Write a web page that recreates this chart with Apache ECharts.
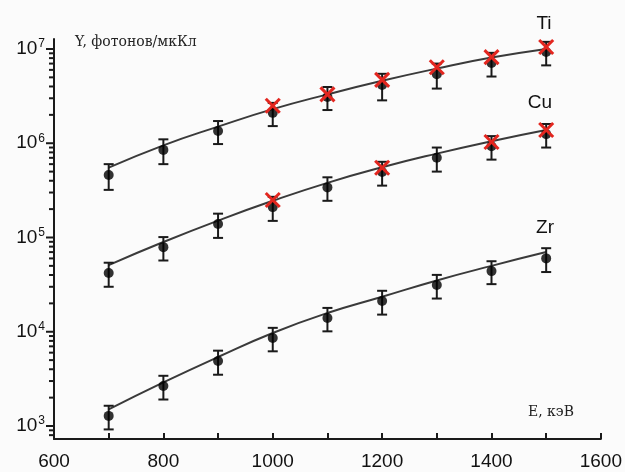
<!DOCTYPE html>
<html>
<head>
<meta charset="utf-8">
<script src="https://cdn.jsdelivr.net/npm/echarts@6/dist/echarts.min.js"></script>
<style>
  html, body { margin: 0; background: #fbfbfb; }
  #chart { width: 625px; height: 472px; }
</style>
</head>
<body>
<div id="chart"></div>
<script>
// Beam energy, keV
const energy = [700, 800, 900, 1000, 1100, 1200, 1300, 1400, 1500];

// Ti: measured yield, error, fit, calculated (red crosses)
const tiExp  = [4.6e5, 8.5e5, 1.35e6, 2.1e6, 3.1e6, 4.15e6, 5.4e6, 7.1e6, 9.3e6];
const tiErr  = [1.4e5, 2.5e5, 3.7e5, 5.8e5, 8.5e5, 1.3e6, 1.6e6, 2.0e6, 2.6e6];
const tiFit  = [5.5e5, 9.5e5, 1.5e6, 2.3e6, 3.3e6, 4.6e6, 6.2e6, 8.1e6, 1.0e7];
const tiCalc = [null, null, null, 2.5e6, 3.3e6, 4.7e6, 6.4e6, 8.2e6, 1.05e7];

// Cu
const cuExp  = [4.2e4, 7.9e4, 1.39e5, 2.1e5, 3.4e5, 4.95e5, 7.0e5, 9.3e5, 1.25e6];
const cuErr  = [1.2e4, 2.2e4, 4.0e4, 6.0e4, 9.5e4, 1.4e5, 2.0e5, 2.6e5, 3.5e5];
const cuFit  = [5.1e4, 8.95e4, 1.51e5, 2.45e5, 3.8e5, 5.56e5, 7.76e5, 1.05e6, 1.38e6];
const cuCalc = [null, null, null, 2.5e5, null, 5.5e5, null, 1.03e6, 1.38e6];

// Zr
const zrExp  = [1.28e3, 2.66e3, 4.9e3, 8.6e3, 1.4e4, 2.12e4, 3.13e4, 4.4e4, 6.0e4];
const zrErr  = [3.6e2, 7.5e2, 1.4e3, 2.4e3, 3.9e3, 6.0e3, 8.8e3, 1.2e4, 1.7e4];
const zrFit  = [1.5e3, 2.9e3, 5.4e3, 9.7e3, 1.58e4, 2.35e4, 3.5e4, 5.0e4, 7.0e4];

// Log axis ticks
const decadeTicks = [1e3, 1e4, 1e5, 1e6, 1e7];
const minorTicks = [];
for (let k = 2; k <= 6; k++) {
  for (let m = 2; m <= 9; m++) {
    const v = m * Math.pow(10, k);
    if (v > 728) minorTicks.push(v);
  }
}

const X_MIN = 600;
const Y_MIN = 728;
const Y_MAX = 1.276e7;
const INK = '#1a1a1a';

function pairs(ys) {
  return energy.map((e, i) => [e, ys[i]]).filter(d => d[1] != null);
}

function errorBars(vals, errs) {
  return {
    type: 'custom',
    silent: true,
    z: 3,
    data: energy.map((e, i) => [e, vals[i] - errs[i], vals[i] + errs[i]]),
    encode: { x: 0, y: [1, 2] },
    renderItem: (params, api) => {
      const lo = api.coord([api.value(0), api.value(1)]);
      const hi = api.coord([api.value(0), api.value(2)]);
      const w = 5;
      const st = { stroke: INK, lineWidth: 2 };
      return {
        type: 'group',
        children: [
          { type: 'line', shape: { x1: lo[0], y1: lo[1], x2: hi[0], y2: hi[1] }, style: st },
          { type: 'line', shape: { x1: lo[0] - w, y1: lo[1], x2: lo[0] + w, y2: lo[1] }, style: st },
          { type: 'line', shape: { x1: hi[0] - w, y1: hi[1], x2: hi[0] + w, y2: hi[1] }, style: st }
        ]
      };
    }
  };
}

function crosses(vals) {
  return {
    type: 'custom',
    silent: true,
    z: 6,
    data: pairs(vals),
    encode: { x: 0, y: 1 },
    renderItem: (params, api) => {
      const p = api.coord([api.value(0), api.value(1)]);
      const s = 7;
      const st = { stroke: '#e3261f', lineWidth: 3 };
      return {
        type: 'group',
        children: [
          { type: 'line', shape: { x1: p[0] - s, y1: p[1] - s, x2: p[0] + s, y2: p[1] + s }, style: st },
          { type: 'line', shape: { x1: p[0] - s, y1: p[1] + s, x2: p[0] + s, y2: p[1] - s }, style: st }
        ]
      };
    }
  };
}

// outward ticks on the log y axis, placed through the axis scale
function yTicks(values, len, width) {
  return {
    type: 'custom',
    silent: true,
    clip: false,
    z: 1,
    data: values.map(v => [X_MIN, v]),
    encode: { x: 0, y: 1 },
    renderItem: (params, api) => {
      const p = api.coord([api.value(0), api.value(1)]);
      return {
        type: 'line',
        shape: { x1: p[0] - len, y1: p[1], x2: p[0], y2: p[1] },
        style: { stroke: INK, lineWidth: width }
      };
    }
  };
}

function fitLine(vals) {
  return {
    type: 'line',
    data: pairs(vals),
    smooth: true,
    symbol: 'none',
    silent: true,
    z: 2,
    lineStyle: { color: '#3a3a3a', width: 2 }
  };
}

function dots(vals) {
  return {
    type: 'scatter',
    data: pairs(vals),
    symbol: 'circle',
    symbolSize: 10,
    silent: true,
    z: 5,
    itemStyle: { color: '#000' }
  };
}

const chart = echarts.init(document.getElementById('chart'), null, { renderer: 'canvas' });

chart.setOption({
  backgroundColor: '#fbfbfb',
  animation: false,
  grid: { left: 54, right: 24, top: 39, bottom: 33 },
  xAxis: {
    type: 'value',
    min: X_MIN,
    max: 1600,
    interval: 200,
    axisLine: { show: true, lineStyle: { color: INK, width: 2 } },
    axisTick: { show: true, inside: true, length: 6, lineStyle: { color: INK, width: 2 } },
    minorTick: { show: true, splitNumber: 2, length: 6, lineStyle: { color: INK, width: 2 } },
    axisLabel: { margin: 13, fontSize: 19, fontFamily: 'Liberation Sans', color: '#111', formatter: v => String(v) },
    splitLine: { show: false }
  },
  yAxis: {
    type: 'log',
    logBase: 10,
    min: Y_MIN,
    max: Y_MAX,
    axisLine: { show: true, lineStyle: { color: INK, width: 2 } },
    axisTick: { show: false },
    axisLabel: {
      customValues: decadeTicks,
      margin: 9,
      formatter: v => '{b|10}{s|' + Math.round(Math.log10(v)) + '}',
      rich: {
        b: { fontSize: 19, fontFamily: 'Liberation Sans', color: '#111' },
        s: { fontSize: 12, fontFamily: 'Liberation Sans', color: '#111', verticalAlign: 'top', padding: [0, 0, 10, 1] }
      }
    },
    splitLine: { show: false }
  },
  graphic: [
    { type: 'text', left: 75, top: 35, style: { text: 'Y, фотонов/мкКл', font: '14px "DejaVu Serif"', fill: '#222' } },
    { type: 'text', left: 528, top: 405, style: { text: 'E, кэВ', font: '14px "DejaVu Serif"', fill: '#222' } },
    { type: 'text', x: 544, y: 24, style: { text: 'Ti', font: '19px "Liberation Sans"', fill: '#111', align: 'center', verticalAlign: 'middle' } },
    { type: 'text', x: 540, y: 103, style: { text: 'Cu', font: '19px "Liberation Sans"', fill: '#111', align: 'center', verticalAlign: 'middle' } },
    { type: 'text', x: 545, y: 228, style: { text: 'Zr', font: '19px "Liberation Sans"', fill: '#111', align: 'center', verticalAlign: 'middle' } }
  ],
  series: [
    yTicks(decadeTicks, 8, 2), yTicks(minorTicks, 5, 2),
    fitLine(tiFit), fitLine(cuFit), fitLine(zrFit),
    errorBars(tiExp, tiErr), errorBars(cuExp, cuErr), errorBars(zrExp, zrErr),
    dots(tiExp), dots(cuExp), dots(zrExp),
    crosses(tiCalc), crosses(cuCalc)
  ]
});
</script>
</body>
</html>
